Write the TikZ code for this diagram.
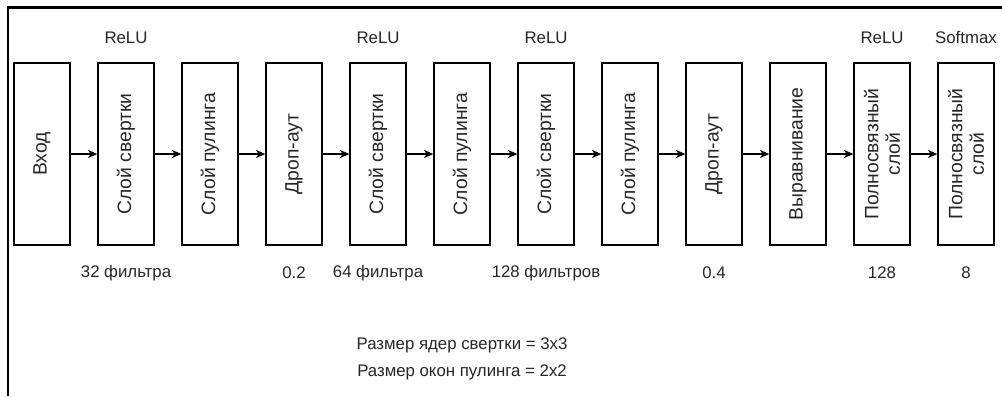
\documentclass[tikz,border=0pt]{standalone}
\usepackage{fontspec}
\setmainfont{Liberation Sans}
\usetikzlibrary{arrows.meta}
\begin{document}
\begin{tikzpicture}[x=0.75pt,y=-0.75pt,
  layerbox/.style={draw, line width=1pt, minimum width=42pt, minimum height=136.5pt, inner sep=0pt},
  layertext/.style={rotate=90, align=center, font=\fontsize{14.5pt}{16pt}\selectfont, text=black!85, inner sep=0pt},
  lab/.style={font=\fontsize{12.6pt}{14pt}\selectfont, text=black!85, inner sep=0pt},
  arr/.style={line width=1pt, -{Stealth[length=7pt,width=6pt,inset=2pt]}},
  frameline/.style={line width=2.2pt}]
\useasboundingbox (0,0) rectangle (1002,396);
\coordinate (fbl) at (8,396);
\coordinate (ftl) at (8,7.5);
\coordinate (ftr) at (1002,7.5);
\draw[frameline] (fbl) -- (ftl) -- (ftr);
\foreach \i/\t in {1/Вход, 2/Слой свертки, 3/Слой пулинга, 4/Дроп-аут, 5/Слой свертки, 6/Слой пулинга, 7/Слой свертки, 8/Слой пулинга, 9/Дроп-аут, 10/Выравнивание, 11/{Полносвязный\\слой}, 12/{Полносвязный\\слой}} {
  \node[layerbox] (b\i) at ({42+84*(\i-1)},154) {};
  \node[layertext] (t\i) at (b\i.center) {\t};
}
\foreach \i [evaluate=\i as \j using int(\i+1)] in {1,...,11}
  \draw[arr] (b\i) -- (b\j);
\node[lab] (a2) at (126,38) {ReLU};
\node[lab] (a5) at (378,38) {ReLU};
\node[lab] (a7) at (546,38) {ReLU};
\node[lab] (a11) at (882,38) {ReLU};
\node[lab] (a12) at (966,38) {Softmax};
\node[lab] (p2) at (126,273) {32 фильтра};
\node[lab] (p4) at (294,273) {0.2};
\node[lab] (p5) at (378,273) {64 фильтра};
\node[lab] (p7) at (546,273) {128 фильтров};
\node[lab] (p9) at (714,273) {0.4};
\node[lab] (p11) at (882,273) {128};
\node[lab] (p12) at (966,273) {8};
\node[lab] (n1) at (462,345) {Размер ядер свертки = 3x3};
\node[lab] (n2) at (462,372) {Размер окон пулинга = 2x2};
\end{tikzpicture}
\end{document}
